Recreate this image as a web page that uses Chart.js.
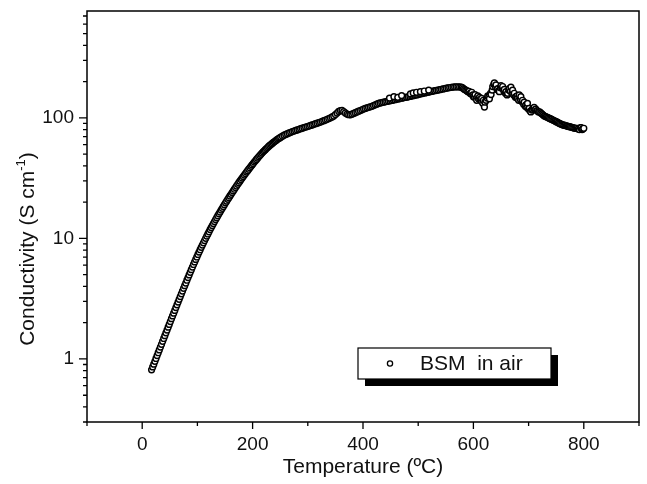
<!DOCTYPE html>
<html>
<head>
<meta charset="utf-8">
<script src="https://cdn.jsdelivr.net/npm/chart.js@4.4.0/dist/chart.umd.min.js"></script>
<style>
  html, body { margin: 0; padding: 0; background: #fff; }
  #wrap { width: 647px; height: 484px; }
</style>
</head>
<body>
<div id="wrap"><canvas id="conductivity-chart"></canvas></div>
<script>
// smooth part of the heating curve
const smoothTemps = [17, 19, 21, 23, 25, 27, 29, 31, 33, 35, 37, 39, 41, 43, 45, 47, 49, 51, 53, 55,
  57, 59, 61, 63, 65, 67, 69, 71, 73, 75, 77, 79, 81, 83, 85, 87, 89, 91, 93, 95,
  97, 99, 101, 103, 105, 107, 109, 111, 113, 115, 117, 119, 121, 123, 125, 127, 129, 131, 133, 135,
  137, 139, 141, 143, 145, 147, 149, 151, 153, 155, 157, 159, 161, 163, 165, 167, 169, 171, 173, 175,
  177, 179, 181, 183, 185, 187, 189, 191, 193, 195, 197, 199, 201, 203, 205, 207, 209, 211, 213, 215,
  217, 219, 221, 223, 225, 227, 229, 231, 233, 235, 237, 239, 241, 243, 245, 247, 249, 251,
  254, 257, 260, 263, 266, 269, 272, 275, 278, 281, 284, 287, 290, 293, 296, 299, 302, 305, 308, 311,
  314, 317, 320, 323, 326, 329, 332, 335, 338, 341, 344, 347, 350, 353, 356, 359, 362, 365, 368, 371,
  374, 377, 380, 383, 386, 389, 392, 395, 398, 401, 404, 407, 410, 413, 416, 419, 422, 425, 428, 431,
  434, 437, 440, 443, 446, 449, 452, 455, 458, 461, 464, 467, 470, 473, 476, 479, 482, 485, 488, 491,
  494, 497, 500, 503, 506, 509, 512, 515, 518, 521, 524, 527, 530, 533, 536, 539, 542, 545, 548, 551,
  554, 557, 560, 563, 566, 569, 572, 575, 578]
const smoothValues = [0.813, 0.859, 0.906, 0.957, 1.009, 1.067, 1.127, 1.189, 1.256, 1.324, 1.400, 1.479, 1.560, 1.648, 1.738, 1.837, 1.936, 2.042, 2.158, 2.275,
  2.399, 2.529, 2.667, 2.812, 2.965, 3.126, 3.296, 3.475, 3.656, 3.855, 4.055, 4.266, 4.498, 4.732, 4.977, 5.236, 5.508, 5.781, 6.081, 6.383,
  6.699, 7.015, 7.362, 7.709, 8.054, 8.433, 8.810, 9.204, 9.594, 10.02, 10.45, 10.89, 11.35, 11.83, 12.30, 12.79, 13.27, 13.80, 14.32, 14.86,
  15.42, 15.99, 16.56, 17.18, 17.78, 18.41, 19.05, 19.72, 20.37, 21.09, 21.78, 22.49, 23.23, 23.99, 24.77, 25.59, 26.42, 27.23, 28.12, 28.97,
  29.85, 30.76, 31.70, 32.58, 33.57, 34.51, 35.48, 36.48, 37.50, 38.55, 39.63, 40.74, 41.78, 42.95, 44.06, 45.19, 46.34, 47.53, 48.64, 49.89,
  51.05, 52.24, 53.33, 54.45, 55.59, 56.75, 57.94, 59.02, 60.12, 61.09, 62.23, 63.24, 64.27, 65.31, 66.37, 67.30, 68.23, 69.18,
  70.5, 71.8, 72.9, 73.9, 75.0, 75.9, 76.9, 77.7, 78.6, 79.5, 80.4, 81.3, 82.2, 83.1, 83.8, 84.7, 85.5, 86.5, 87.4, 88.4,
  89.4, 90.4, 91.4, 92.4, 93.6, 94.8, 95.9, 97.3, 98.7, 100.0, 101.7, 103.5, 106.4, 109.6, 113.1, 115.0, 115.3, 112.7, 110.0, 107.5,
  106.3, 105.9, 107.4, 108.9, 110.4, 111.9, 113.5, 115.1, 116.7, 118.4, 119.8, 121.1, 122.2, 123.5, 124.8, 126.5, 128.2, 130.0, 131.6, 133.0,
  134.0, 134.9, 135.9, 136.8, 137.7, 138.6, 139.6, 140.6, 141.6, 142.6, 143.5, 144.5, 145.5, 146.5, 147.6, 148.6, 149.6, 150.7, 151.7, 152.8,
  153.8, 154.9, 156.2, 157.4, 158.8, 160.0, 161.1, 162.2, 163.3, 164.4, 165.6, 166.7, 167.9, 169.1, 170.2, 171.4, 172.6, 173.8, 175.0, 176.2,
  177.4, 178.6, 179.4, 180.1, 180.5, 180.9, 181.1, 180.4, 179.6]

// stray circles sitting above the band between 440 and 530 ºC
const strayTemps = [448, 456, 463, 470, 486, 491, 497, 504, 511, 519]
const strayValues = [146, 150, 148, 153, 158, 161, 163, 165, 167, 170]

// scattered part above ~580 ºC
const noisyTemps = [580, 582, 584, 586, 588, 590, 592, 594, 596, 597, 599, 600, 602, 603, 605, 606, 608, 609, 611, 612,
  614, 615, 617, 618, 620, 621, 623, 625, 626, 628, 629, 631, 632, 634, 635, 637, 638, 640, 641, 643,
  644, 646, 647, 649, 650, 652, 653, 655, 656, 658, 659, 661, 662, 664, 665, 667, 668, 670, 671, 673,
  674, 676, 677, 679, 680, 682, 683, 685, 686, 688, 689, 691, 692, 694, 695, 697, 698, 700, 701, 703,
  704, 706, 707, 709, 710, 712, 713, 715, 716, 718, 720, 722, 724, 726, 728, 730, 732, 734, 736, 738,
  740, 742, 744, 746, 748, 750, 752, 754, 756, 758, 760, 762, 764, 766, 768, 770, 772, 774, 776, 778,
  780, 782, 784, 786, 788, 790, 792, 794, 795, 797, 798, 800]
const noisyValues = [178, 175, 172, 170, 168, 165, 166, 160, 158, 163, 155, 150, 148, 156, 145, 140, 152, 144, 148, 142,
  138, 145, 132, 140, 123, 135, 140, 146, 152, 150, 144, 160, 156, 170, 182, 190, 195, 180, 188, 172,
  175, 168, 165, 178, 185, 176, 182, 168, 172, 160, 165, 155, 160, 170, 175, 166, 180, 160, 170, 155,
  160, 148, 150, 152, 145, 140, 155, 142, 150, 136, 140, 130, 135, 125, 128, 122, 132, 118, 120, 114,
  112, 116, 118, 120, 122, 117, 118, 115, 114, 112, 112, 110, 108, 106, 104, 103, 102, 101, 100, 99,
  98, 97, 96, 95, 94, 93, 92, 91, 90, 89, 88, 87.5, 87, 86.5, 86, 85.5, 85, 84.5, 84, 83.5,
  83, 82.5, 82, 82, 82, 81, 80, 83, 83, 80, 81, 82]

const xTickValues = [-100, 0, 100, 200, 300, 400, 500, 600, 700, 800, 900]
const xTickLabels = ['', '0', '', '200', '', '400', '', '600', '', '800', '']
const yTickValues = [0.3, 0.4, 0.5, 0.6, 0.7, 0.8, 0.9, 1, 2, 3, 4, 5, 6, 7, 8, 9, 10,
  20, 30, 40, 50, 60, 70, 80, 90, 100, 200, 300, 400, 500, 600, 700]
const yMajorTicks = [1, 10, 100]

const seriesLabel = 'BSM  in air'
const xTitle = 'Temperature (ºC)'
const yTitle = 'Conductivity (S cm'
const yTitleSup = '-1'

const fontFamily = '"Liberation Sans", Arial, sans-serif'

const toPoints = (temps, values) => temps.map((t, i) => ({x: t, y: values[i]}))
const points = toPoints(smoothTemps, smoothValues)
  .concat(toPoints(strayTemps, strayValues))
  .concat(toPoints(noisyTemps, noisyValues))


const axisMarks = {
  id: 'axisMarks',
  afterDraw(chart) {
    const {ctx, chartArea, scales} = chart
    const {left, right, top, bottom} = chartArea
    ctx.save()

    // frame
    ctx.strokeStyle = '#000'
    ctx.lineWidth = 1.5
    ctx.strokeRect(left, top, right - left, bottom - top)

    // ticks, outward
    ctx.lineWidth = 1.3
    ctx.beginPath()
    xTickValues.forEach((v, i) => {
      const px = scales.x.getPixelForValue(v)
      const len = xTickLabels[i] ? 7 : 4
      ctx.moveTo(px, bottom)
      ctx.lineTo(px, bottom + len)
    })
    yTickValues.forEach((v) => {
      const py = scales.y.getPixelForValue(v)
      const len = yMajorTicks.includes(v) ? 8 : 4
      ctx.moveTo(left, py)
      ctx.lineTo(left - len, py)
    })
    ctx.stroke()

    // axis titles
    ctx.fillStyle = '#111'
    ctx.font = `21px ${fontFamily}`
    ctx.textAlign = 'center'
    ctx.textBaseline = 'middle'
    ctx.fillText(xTitle, (left + right) / 2, 467)

    ctx.translate(28, 249)
    ctx.rotate(-Math.PI / 2)
    ctx.font = `21px ${fontFamily}`
    const mainW = ctx.measureText(yTitle).width
    ctx.font = `13px ${fontFamily}`
    const supW = ctx.measureText(yTitleSup).width
    ctx.font = `21px ${fontFamily}`
    const closeW = ctx.measureText(')').width
    const startX = -(mainW + supW + closeW) / 2
    ctx.textAlign = 'left'
    ctx.fillText(yTitle, startX, 0)
    ctx.font = `13px ${fontFamily}`
    ctx.fillText(yTitleSup, startX + mainW, -7)
    ctx.font = `21px ${fontFamily}`
    ctx.fillText(')', startX + mainW + supW, 0)
    ctx.restore()
  }
}

const shadowLegend = {
  id: 'shadowLegend',
  afterDraw(chart) {
    const {ctx} = chart
    const bx = 358, by = 348, bw = 193, bh = 31
    ctx.save()
    ctx.fillStyle = '#000'
    ctx.fillRect(bx + 7, by + 7, bw, bh)
    ctx.fillStyle = '#fff'
    ctx.fillRect(bx, by, bw, bh)
    ctx.strokeStyle = '#000'
    ctx.lineWidth = 1.2
    ctx.strokeRect(bx, by, bw, bh)

    ctx.beginPath()
    ctx.arc(bx + 32, by + bh / 2, 2.6, 0, Math.PI * 2)
    ctx.fillStyle = '#fff'
    ctx.fill()
    ctx.lineWidth = 1.3
    ctx.stroke()

    ctx.fillStyle = '#111'
    ctx.font = `21px ${fontFamily}`
    ctx.textAlign = 'left'
    ctx.textBaseline = 'middle'
    ctx.fillText(chart.data.datasets[0].label, bx + 62, by + bh / 2 + 1)
    ctx.restore()
  }
}


const conductivityCtx = document.getElementById('conductivity-chart')

const conductivityChart = new Chart(conductivityCtx, {
  type: 'scatter',
  data: {
    datasets: [{
      label: seriesLabel,
      data: points,
      showLine: false,
      pointStyle: 'circle',
      pointRadius: 2.9,
      pointBorderWidth: 1.45,
      borderColor: '#000',
      backgroundColor: '#fff'
    }]
  },
  options: {
    responsive: true,
    maintainAspectRatio: false,
    animation: false,
    layout: {
      padding: {top: 11, right: 8, left: 0, bottom: 0}
    },
    scales: {
      x: {
        type: 'linear',
        min: -100,
        max: 900,
        grid: {display: false},
        border: {display: false},
        afterBuildTicks: (scale) => {
          scale.ticks = xTickValues.map(v => ({value: v}))
        },
        afterFit: (scale) => {
          scale.height = 62
          scale.paddingLeft = 0
          scale.paddingRight = 0
        },
        ticks: {
          autoSkip: false,
          maxRotation: 0,
          padding: 3,
          color: '#111',
          font: {size: 19, family: fontFamily},
          callback: (value) => xTickLabels[xTickValues.indexOf(value)] || ''
        }
      },
      y: {
        type: 'logarithmic',
        min: 0.3,
        max: 770,
        grid: {display: false},
        border: {display: false},
        afterBuildTicks: (scale) => {
          scale.ticks = yTickValues.map(v => ({value: v}))
        },
        afterFit: (scale) => {
          scale.width = 87
          scale.paddingTop = 0
          scale.paddingBottom = 0
        },
        ticks: {
          autoSkip: false,
          padding: 5,
          color: '#111',
          font: {size: 19, family: fontFamily},
          callback: (value) => yMajorTicks.includes(value) ? String(value) : ''
        }
      }
    },
    plugins: {
      legend: {display: false},
      tooltip: {enabled: false}
    }
  },
  plugins: [axisMarks, shadowLegend]
})
</script>
</body>
</html>
